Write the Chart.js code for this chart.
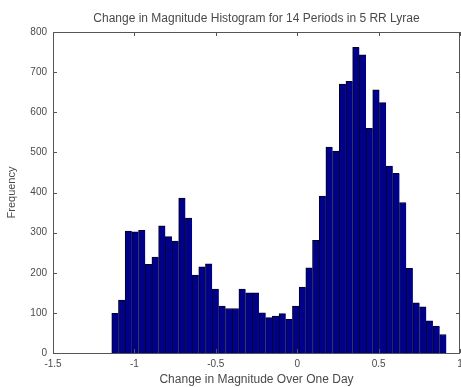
<!DOCTYPE html>
<html>
<head>
<meta charset="utf-8">
<script src="https://cdn.jsdelivr.net/npm/chart.js@4.4.1/dist/chart.umd.min.js"></script>
<style>
  html, body { margin: 0; padding: 0; background: #fff; }
  #wrap { width: 461px; height: 387px; }
</style>
</head>
<body>
<div id="wrap"><canvas id="histChart" width="461" height="387"></canvas></div>
<script>
// histogram bins (50 equal bins)
const binStart = -1.139;
const binWidth = 0.0411;
const counts = [
  99, 132, 304, 302, 306, 221, 239, 317, 290, 279, 386, 336,
  194, 215, 222, 159, 117, 111, 111, 159, 150, 150, 100, 88, 92, 98,
  84, 117, 164, 212, 281, 391, 513, 503, 670, 677, 762, 743, 560, 656,
  624, 466, 448, 375, 211, 125, 115, 80, 67, 46,
];

const xTicks = [-1.5, -1, -0.5, 0, 0.5, 1];
const yTicks = [0, 100, 200, 300, 400, 500, 600, 700, 800];

const FONT = "'Liberation Sans', Arial, Helvetica, sans-serif";
const TEXT = "#4a4a4a";

const points = counts.map((c, i) => ({
  x: binStart + (i + 0.5) * binWidth,
  y: c,
}));

// box around the axes with matlab-style inward ticks
const frameTicks = {
  id: "frameTicks",
  afterDraw(chart) {
    const { ctx, chartArea: a, scales } = chart;
    const len = 4;
    ctx.save();
    ctx.strokeStyle = "#555";
    ctx.lineWidth = 1;
    ctx.beginPath();
    ctx.rect(a.left + 0.5, a.top + 0.5, a.right - a.left - 1, a.bottom - a.top);
    xTicks.forEach((v) => {
      const px = Math.round(scales.x.getPixelForValue(v)) + 0.5;
      ctx.moveTo(px, a.bottom);
      ctx.lineTo(px, a.bottom - len);
      ctx.moveTo(px, a.top);
      ctx.lineTo(px, a.top + len);
    });
    yTicks.forEach((v) => {
      const py = Math.round(scales.y.getPixelForValue(v)) + 0.5;
      ctx.moveTo(a.left, py);
      ctx.lineTo(a.left + len, py);
      ctx.moveTo(a.right, py);
      ctx.lineTo(a.right - len, py);
    });
    ctx.stroke();
    ctx.restore();
  },
};

const ctx = document.querySelector("#histChart").getContext("2d");
new Chart(ctx, {
  type: "bar",
  data: {
    datasets: [
      {
        data: points,
        backgroundColor: "#000088",
        borderColor: "#000022",
        borderWidth: { left: 1, top: 1, right: 0, bottom: 0 },
        borderSkipped: false,
        barPercentage: 1,
        categoryPercentage: 1,
      },
    ],
  },
  options: {
    responsive: false,
    animation: false,
    layout: { padding: { left: 0, right: 1, top: 0, bottom: 0 } },
    plugins: {
      legend: { display: false },
      tooltip: { enabled: false },
    },
    scales: {
      x: {
        type: "linear",
        min: -1.5,
        max: 1,
        offset: false,
        grid: { display: false, drawTicks: false, offset: false },
        border: { display: false },
        afterBuildTicks: (s) => {
          s.ticks = xTicks.map((v) => ({ value: v }));
        },
        afterFit: (s) => {
          s.height = 34;
          s.paddingLeft = 0;
          s.paddingRight = 0;
        },
        ticks: {
          color: TEXT,
          padding: 5,
          maxRotation: 0,
          autoSkip: false,
          font: { family: FONT, size: 10 },
          callback: (v) => String(v),
        },
        title: {
          display: true,
          text: "Change in Magnitude Over One Day",
          color: TEXT,
          font: { family: FONT, size: 12 },
          padding: { top: 0, bottom: 0 },
        },
      },
      // top axis only carries the title, so it centres over the plot box
      top: {
        type: "linear",
        position: "top",
        min: -1.5,
        max: 1,
        offset: false,
        grid: { display: false, drawTicks: false },
        border: { display: false },
        ticks: { display: false },
        afterFit: (s) => {
          s.height = 32;
          s.paddingLeft = 0;
          s.paddingRight = 0;
        },
        title: {
          display: true,
          text: "Change in Magnitude Histogram for 14 Periods in 5 RR Lyrae",
          color: TEXT,
          font: { family: FONT, size: 12 },
          padding: { top: 11, bottom: 0 },
        },
      },
      y: {
        min: 0,
        max: 800,
        grid: { display: false, drawTicks: false },
        border: { display: false },
        afterBuildTicks: (s) => {
          s.ticks = yTicks.map((v) => ({ value: v }));
        },
        afterFit: (s) => {
          s.width = 53;
          s.paddingTop = 0;
          s.paddingBottom = 0;
        },
        ticks: {
          color: TEXT,
          padding: 6,
          font: { family: FONT, size: 10 },
        },
        title: {
          display: true,
          text: "Frequency",
          color: TEXT,
          font: { family: FONT, size: 11 },
          padding: { top: 5, bottom: 0 },
        },
      },
    },
  },
  plugins: [frameTicks],
});
</script>
</body>
</html>
